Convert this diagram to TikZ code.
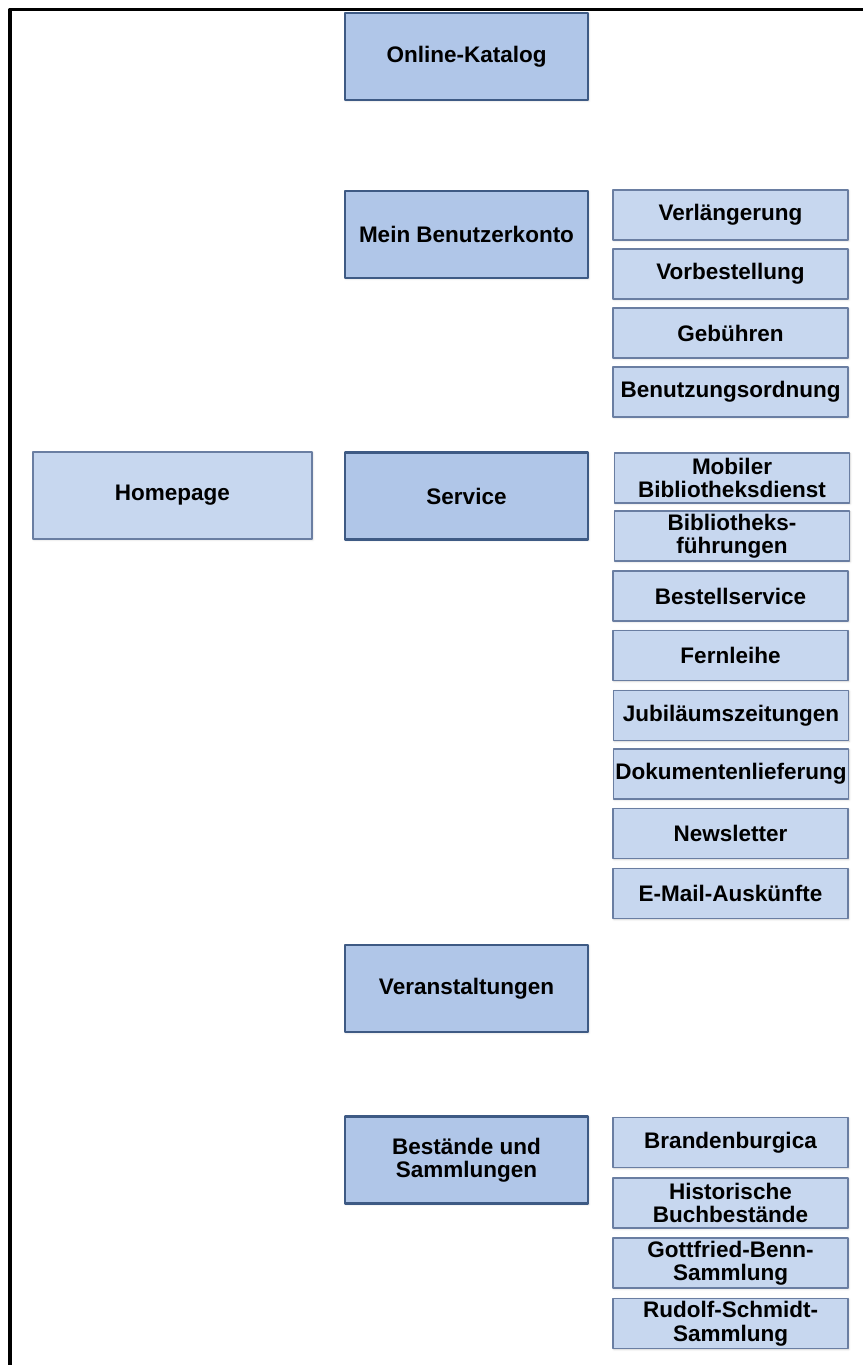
\documentclass[tikz,border=0pt]{standalone}
\usepackage{fontspec}
\setmainfont{Liberation Sans}
\usepackage{xcolor}
\usetikzlibrary{calc,shadows.blur}
\definecolor{mainfill}{HTML}{B0C6E8}
\definecolor{mainline}{HTML}{3E5A84}
\definecolor{subfill}{HTML}{C7D7EF}
\definecolor{subline}{HTML}{6A7EA2}
\tikzset{
	pagebox/.style={
			align=center, inner sep=0pt,
			font=\fontsize{22.5}{23.5}\selectfont\bfseries,
			blur shadow={shadow xshift=0.8pt, shadow yshift=-0.8pt,
					shadow blur radius=2pt, shadow opacity=20}
		},
	mainbox/.style={pagebox, draw=mainline, fill=mainfill, line width=2.4pt,
			minimum width=243pt, minimum height=87pt},
	subbox/.style={pagebox, draw=subline, fill=subfill, line width=1.8pt,
			minimum width=235pt, minimum height=50pt}
}

\begin{document}
\begin{tikzpicture}[x=1pt, y=-1pt, line cap=round, line join=round]
    \useasboundingbox (0,0) rectangle (863,1365);

    \coordinate (TL) at (10,9.5);
    \coordinate (TR) at (863,9.5);
    \coordinate (BL) at (10,1365);
    \draw[line width=3.3pt, line cap=butt] (BL) -- (TL) -- (TR);

    \node[subbox, minimum width=279pt, minimum height=87pt] (home) at (172.5,495.5) {Homepage};

    \node[mainbox] (katalog)  at (466.5,56.5)  {Online-Katalog};
    \node[mainbox] (konto)    at (466.5,234.5) {Mein Benutzerkonto};
    \node[mainbox] (service)  at (466.5,496)   {Service};
    \node[mainbox] (veranst)  at (466.5,988.5) {Veranstaltungen};
    \node[mainbox] (bestand)  at (466.5,1160)  {Best\"ande und\\Sammlungen};

    \node[subbox] (verl)    at (730.5,215) {Verl\"angerung};
    \node[subbox] (vorb)    at (730.5,274) {Vorbestellung};
    \node[subbox] (gebuehr) at (730.5,333) {Geb\"uhren};
    \node[subbox] (ordnung) at (730.5,392) {Benutzungsordnung};

    \node[subbox] (mobil)    at (732,478)     {Mobiler\\Bibliotheksdienst};
    \node[subbox] (fuehrung) at (732,536)     {Bibliotheks-\\f\"uhrungen};
    \node[subbox] (bestell)  at (730.5,596)   {Bestellservice};
    \node[subbox] (fernl)    at (730.5,655.5) {Fernleihe};
    \node[subbox] (jubil)    at (731,715.5)   {Jubil\"aumszeitungen};
    \node[subbox] (doku)     at (731,774)     {Dokumentenlieferung};
    \node[subbox] (news)     at (730.5,833.5) {Newsletter};
    \node[subbox] (email)    at (730.5,893.5) {E-Mail-Ausk\"unfte};

    \node[subbox] (brand)   at (730.5,1142.5) {Brandenburgica};
    \node[subbox] (histor)  at (730.5,1203)   {Historische\\Buchbest\"ande};
    \node[subbox] (benn)    at (730.5,1263)   {Gottfried-Benn-\\Sammlung};
    \node[subbox] (schmidt) at (730.5,1323.5) {Rudolf-Schmidt-\\Sammlung};
\end{tikzpicture}
\end{document}
